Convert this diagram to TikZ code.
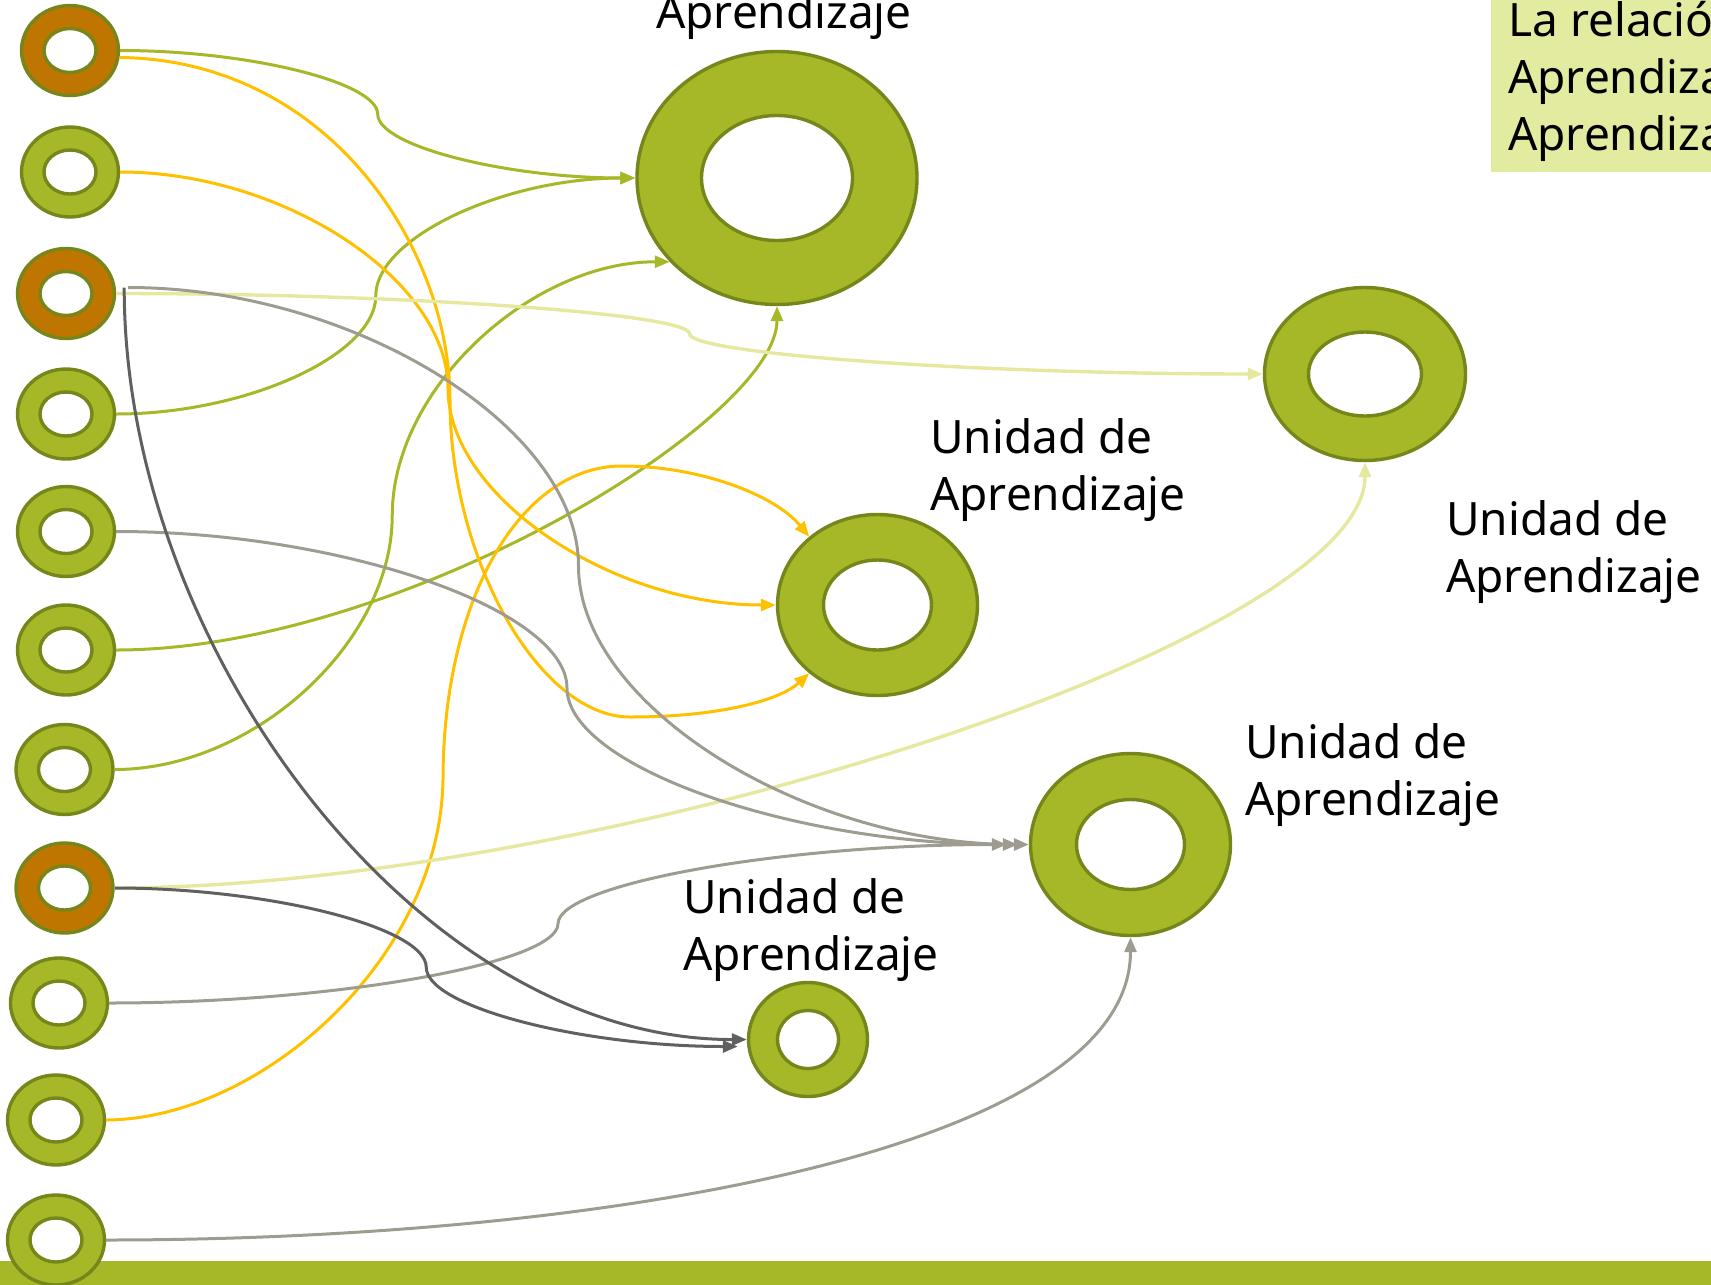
\documentclass[tikz,border=0pt]{standalone}
\usepackage{fontspec}
\setmainfont{Noto Sans}
\usetikzlibrary{shapes.geometric, arrows.meta, calc, math}
\definecolor{ringgreen}{RGB}{166,183,40}
\definecolor{ringedge}{RGB}{118,134,26}
\definecolor{ringorange}{RGB}{191,118,0}
\definecolor{linkgold}{RGB}{255,192,0}
\definecolor{linkpale}{RGB}{229,232,158}
\definecolor{linkgray}{RGB}{158,156,144}
\definecolor{linkdark}{RGB}{96,96,96}
\definecolor{notefill}{RGB}{226,235,160}
\tikzset{%
  >={Triangle[length=15pt, width=12pt]}, % filled arrow heads
  % ring = outer ellipse, hole = white ellipse on top of it
  ring/.style={ellipse, draw=ringedge, fill=ringgreen, line width=3.4pt, inner sep=0pt},
  hole/.style={ring, fill=white},
  dims/.style 2 args={minimum width=#1, minimum height=#2},
  % connectors
  link/.style={->, line width=3pt, draw=#1},
  % s-shaped connector: horizontal at both ends, vertical in the middle
  sbend/.style={to path={
      let \p1=(\tikztostart), \p2=(\tikztotarget) in
      .. controls ({(3*\x1+\x2)/4},\y1) and ({(\x1+\x2)/2},{(3*\y1+\y2)/4})
      .. ({(\x1+\x2)/2},{(\y1+\y2)/2})
      .. controls ({(\x1+\x2)/2},{(\y1+3*\y2)/4}) and ({(\x1+3*\x2)/4},\y2)
      .. (\tikztotarget) \tikztonodes}},
  % unit labels (base = baseline of the last line)
  lbl/.style={font=\fontsize{46}{57}\selectfont, align=left, inner sep=0pt, anchor=base west}
}
\begin{document}
\begin{tikzpicture}[x=1pt, y=-1pt]
  \tikzmath{\ringw = 97; \ringh = 90; \holew = 52; \holeh = 44;}
  \useasboundingbox (0,0) rectangle (1711,1285);
  \clip (0,0) rectangle (1711,1285);

  % bottom bar and note box
  \fill[ringgreen] (0,1261) rectangle (1711,1285);
  \node[fill=notefill, anchor=north west, inner sep=0pt, minimum width=220pt, minimum height=172pt] (note) at (1491,0) {};
  \node[lbl] (notetext) at (1508,150) {La relación\\Aprendizaje\\Aprendizaje};

  % left column of rings
  \foreach \n/\x/\y/\c in {1/70/50.5/ringorange, 2/70/172/ringgreen, 3/66/293.5/ringorange,
      4/66/414/ringgreen, 5/66/531.5/ringgreen, 6/66/650/ringgreen, 7/64.5/769.5/ringgreen,
      8/64.5/888/ringorange, 9/59/1003/ringgreen, 10/56/1120/ringgreen, 11/56/1240/ringgreen} {
    \node[ring, fill=\c, dims={\ringw pt}{\ringh pt}] (L\n) at (\x,\y) {};
    \node[hole, dims={\holew pt}{\holeh pt}] (Lh\n) at (L\n) {};
  }

  % units
  \node[ring, dims={280pt}{253pt}] (A) at (777,178) {};
  \node[hole, dims={151pt}{125pt}] (Ah) at (A) {};
  \node[ring, dims={200pt}{181pt}] (B) at (877.5,605) {};
  \node[hole, dims={108pt}{90pt}] (Bh) at (B) {};
  \node[ring, dims={201pt}{173pt}] (C) at (1365,374) {};
  \node[hole, dims={113pt}{84pt}] (Ch) at (C) {};
  \node[ring, dims={200pt}{182pt}] (D) at (1130.5,844.5) {};
  \node[hole, dims={108pt}{90pt}] (Dh) at (D) {};
  \node[ring, dims={119pt}{114pt}] (E) at (808,1039.5) {};
  \node[hole, dims={61pt}{58pt}] (Eh) at (E) {};

  \node[lbl] (labA) at (656,28) {Aprendizaje};
  \node[lbl] (labB) at (930,510) {Unidad de\\Aprendizaje};
  \node[lbl] (labC) at (1446,592) {Unidad de\\Aprendizaje};
  \node[lbl] (labD) at (1245,815) {Unidad de\\Aprendizaje};
  \node[lbl] (labE) at (683,970) {Unidad de\\Aprendizaje};

  % loose ends
  \coordinate (L3g) at ([shift={(12,-6)}]L3.east);
  \coordinate (L3d) at ([shift={(8,-6)}]L3.east);
  \coordinate (D1) at ([xshift=-11pt]D.west);
  \coordinate (D2) at ([xshift=-22pt]D.west);
  \coordinate (E2) at ([shift={(-9,7)}]E.west);

  % green links
  \draw[link=ringgreen] (L1.east) to[sbend] (A.west);
  \draw[link=ringgreen] (L4.east) to[sbend] (A.west);
  \draw[link=ringgreen] (L7.east) to[sbend] (A.218);
  \draw[link=ringgreen] (L6.east) .. controls (400,650) and (777,420) .. (A.south);
  % gold links
  \draw[link=linkgold] (L2.east) to[sbend] (B.west);
  \draw[link=linkgold] (L1.-8) .. controls (330,60) and (450,250) .. (450,400)
    .. controls (450,560) and (540,717) .. (630,717) .. controls (720,717) and (780,700) .. (B.-135);
  \draw[link=linkgold] (L10.east) .. controls (260,1119) and (440,960) .. (443,780)
    .. controls (443,600) and (520,466) .. (622,466) .. controls (700,466) and (775,495) .. (B.135);
  % pale links
  \draw[link=linkpale, line width=3.4pt] (L3.east) to[sbend] (C.west);
  \draw[link=linkpale, line width=3.4pt] (L8.east) .. controls (600,887) and (1365,640) .. (C.south);
  % gray links
  \draw[link=linkgray] (L3g) to[sbend] (D.west);
  \draw[link=linkgray] (L5.east) to[sbend] (D1);
  \draw[link=linkgray] (L9.east) to[sbend] (D2);
  \draw[link=linkgray] (L11.east) .. controls (600,1240) and (1130.5,1150) .. (D.south);
  % dark links
  \draw[link=linkdark] (L3d) .. controls (124,650) and (420,1040) .. (E.west);
  \draw[link=linkdark] (L8.east) to[sbend] (E2);
\end{tikzpicture}
\end{document}
